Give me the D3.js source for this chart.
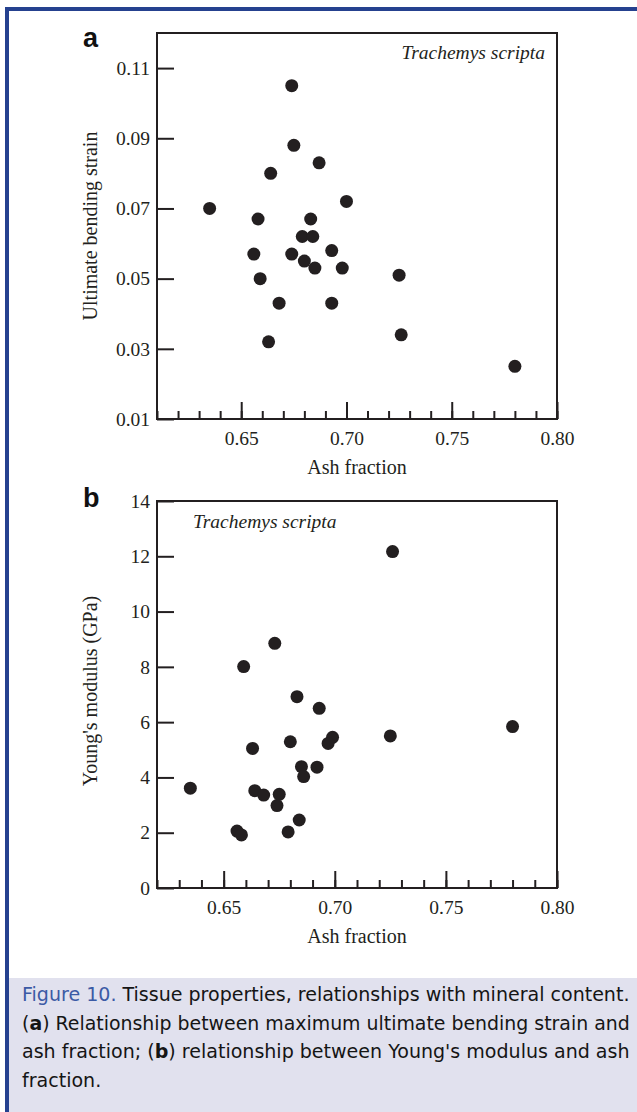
<!DOCTYPE html>
<html>
<head>
<meta charset="utf-8">
<script src="https://cdn.jsdelivr.net/npm/d3@7"></script>
<style>
  body { margin: 0; background: #fff; }
  svg { display: block; }
</style>
</head>
<body>
<div id="fig"></div>
<script>
// Figure 10 - ash fraction vs bending strain / Young's modulus

// panel a data
const ashA = [0.674, 0.675, 0.687, 0.664, 0.635, 0.700, 0.658, 0.683, 0.679, 0.684, 0.656, 0.674,
  0.693, 0.680, 0.685, 0.698, 0.659, 0.725, 0.668, 0.693, 0.663, 0.726, 0.780];
const strainA = [0.105, 0.088, 0.083, 0.080, 0.070, 0.072, 0.067, 0.067, 0.062, 0.062, 0.057, 0.057,
  0.058, 0.055, 0.053, 0.053, 0.050, 0.051, 0.043, 0.043, 0.032, 0.034, 0.025];

// panel b data
const ashB = [0.726, 0.673, 0.659, 0.683, 0.693, 0.780, 0.725, 0.699, 0.697, 0.680, 0.663, 0.685,
  0.692, 0.686, 0.635, 0.664, 0.668, 0.675, 0.674, 0.684, 0.656, 0.658, 0.679];
const modulusB = [12.17, 8.85, 8.01, 6.92, 6.50, 5.84, 5.50, 5.45, 5.23, 5.29, 5.05, 4.39,
  4.37, 4.03, 3.61, 3.52, 3.36, 3.39, 2.98, 2.46, 2.06, 1.92, 2.03];

// tick labels
const xTicks = [0.65, 0.70, 0.75, 0.80];
const yTicksA = [0.01, 0.03, 0.05, 0.07, 0.09, 0.11];
const yTicksB = [0, 2, 4, 6, 8, 10, 12, 14];

let width = 637;
let height = 1112;
let ink = '#231f20';
let serif = '"Liberation Serif", "Times New Roman", serif';

let svg = d3.select('#fig').append('svg')
  .attr('width', width)
  .attr('height', height);

svg.append('rect').attr('width', width).attr('height', height).attr('fill', '#fff');

// caption box
svg.append('rect')
  .attr('x', 7).attr('y', 978)
  .attr('width', width - 7).attr('height', height - 978)
  .attr('fill', '#e1e1ee');

// blue frame (top + left only)
svg.append('rect').attr('x', 5).attr('y', 7).attr('width', width - 5).attr('height', 4).attr('fill', '#25418f');
svg.append('rect').attr('x', 5).attr('y', 7).attr('width', 4).attr('height', height - 7).attr('fill', '#25418f');

function panel(opt) {
  let x = d3.scaleLinear().domain(opt.xDomain).range([157, 557]);
  let y = d3.scaleLinear().domain(opt.yDomain).range([opt.bottom, opt.top]);
  let g = svg.append('g');

  // minor x ticks
  let minor = d3.axisBottom(x).tickValues(x.ticks(20)).tickSize(-8).tickFormat('');
  g.append('g')
    .attr('transform', `translate(0, ${opt.bottom})`)
    .call(minor)
    .call(a => a.select('.domain').remove())
    .selectAll('line').attr('stroke', ink).attr('stroke-width', 2);

  // major x ticks
  let xaxis = d3.axisBottom(x).tickValues(xTicks).tickSize(-17).tickPadding(12).tickFormat(d3.format('.2f'));
  g.append('g')
    .attr('transform', `translate(0, ${opt.bottom})`)
    .call(xaxis)
    .call(a => a.select('.domain').remove())
    .call(a => a.selectAll('line').attr('stroke', ink).attr('stroke-width', 2))
    .call(a => a.selectAll('text').attr('fill', ink).style('font-family', serif).style('font-size', '19.5px'));

  // y ticks
  let yaxis = d3.axisLeft(y).tickValues(opt.yTicks).tickSize(-17).tickPadding(7).tickFormat(opt.yFormat);
  g.append('g')
    .call(yaxis)
    .attr('transform', 'translate(157, 0)')
    .call(a => a.select('.domain').remove())
    .call(a => a.selectAll('line').attr('stroke', ink).attr('stroke-width', 2))
    .call(a => a.selectAll('text').attr('fill', ink).style('font-family', serif).style('font-size', '19.5px'));

  // plot frame
  g.append('rect')
    .attr('x', 157).attr('y', opt.top)
    .attr('width', 400).attr('height', opt.bottom - opt.top)
    .attr('fill', 'none').attr('stroke', ink).attr('stroke-width', 2);

  // points
  g.selectAll('circle.pt')
    .data(opt.xs.map((v, i) => [v, opt.ys[i]]))
    .join('circle')
    .attr('class', 'pt')
    .attr('cx', d => x(d[0]))
    .attr('cy', d => y(d[1]))
    .attr('r', 6.5)
    .attr('fill', ink);

  // species label
  g.append('text')
    .text('Trachemys scripta')
    .attr('x', opt.spX).attr('y', opt.spY)
    .attr('text-anchor', opt.spAnchor)
    .attr('fill', ink)
    .style('font-family', serif).style('font-style', 'italic').style('font-size', '19.5px');

  // x title
  g.append('text')
    .text('Ash fraction')
    .attr('x', 357).attr('y', opt.bottom + 55)
    .attr('text-anchor', 'middle')
    .attr('fill', ink)
    .style('font-family', serif).style('font-size', '20px');

  // y title
  g.append('text')
    .text(opt.yTitle)
    .attr('transform', `translate(97, ${opt.yTitleY}) rotate(-90)`)
    .attr('text-anchor', 'middle')
    .attr('fill', ink)
    .style('font-family', serif).style('font-size', '20px');

  // panel letter
  g.append('text')
    .text(opt.letter)
    .attr('x', 83).attr('y', opt.letterY)
    .attr('fill', '#111')
    .style('font-family', '"Liberation Sans", Arial, sans-serif')
    .style('font-weight', 'bold').style('font-size', '27px');
}

panel({
  xs: ashA, ys: strainA,
  xDomain: [0.61, 0.80], yDomain: [0.01, 0.12],
  top: 33, bottom: 419,
  yTicks: yTicksA, yFormat: d3.format('.2f'),
  yTitle: 'Ultimate bending strain', yTitleY: 226,
  spX: 545, spY: 59, spAnchor: 'end',
  letter: 'a', letterY: 47
});

panel({
  xs: ashB, ys: modulusB,
  xDomain: [0.62, 0.80], yDomain: [0, 14],
  top: 501, bottom: 888,
  yTicks: yTicksB, yFormat: d3.format('d'),
  yTitle: 'Young\'s modulus (GPa)', yTitleY: 691,
  spX: 193, spY: 528, spAnchor: 'start',
  letter: 'b', letterY: 507
});

// caption - each justified line is scaled to the box width
let cap = svg.append('g')
  .style('font-family', '"DejaVu Sans", "Noto Sans", sans-serif')
  .style('font-size', '20px')
  .attr('fill', '#151515');

let l1 = cap.append('text');
l1.append('tspan').attr('fill', '#3b5aa5').text('Figure 10. ');
l1.append('tspan').text('Tissue properties, relationships with mineral content.');

let l2 = cap.append('text');
l2.append('tspan').text('(');
l2.append('tspan').style('font-weight', 'bold').text('a');
l2.append('tspan').text(') Relationship between maximum ultimate bending strain and');

let l3 = cap.append('text');
l3.append('tspan').text('ash fraction; (');
l3.append('tspan').style('font-weight', 'bold').text('b');
l3.append('tspan').text(') relationship between Young\'s modulus and ash');

let l4 = cap.append('text').text('fraction.');

let baselines = [1001, 1029.5, 1058, 1086.5];
let s1 = 608 / l1.node().getBBox().width;
[l1, l2, l3, l4].forEach((t, i) => {
  let sx = i < 3 ? 608 / t.node().getBBox().width : s1;
  t.attr('transform', `translate(22, ${baselines[i]}) scale(${sx}, 1)`);
});
</script>
</body>
</html>
